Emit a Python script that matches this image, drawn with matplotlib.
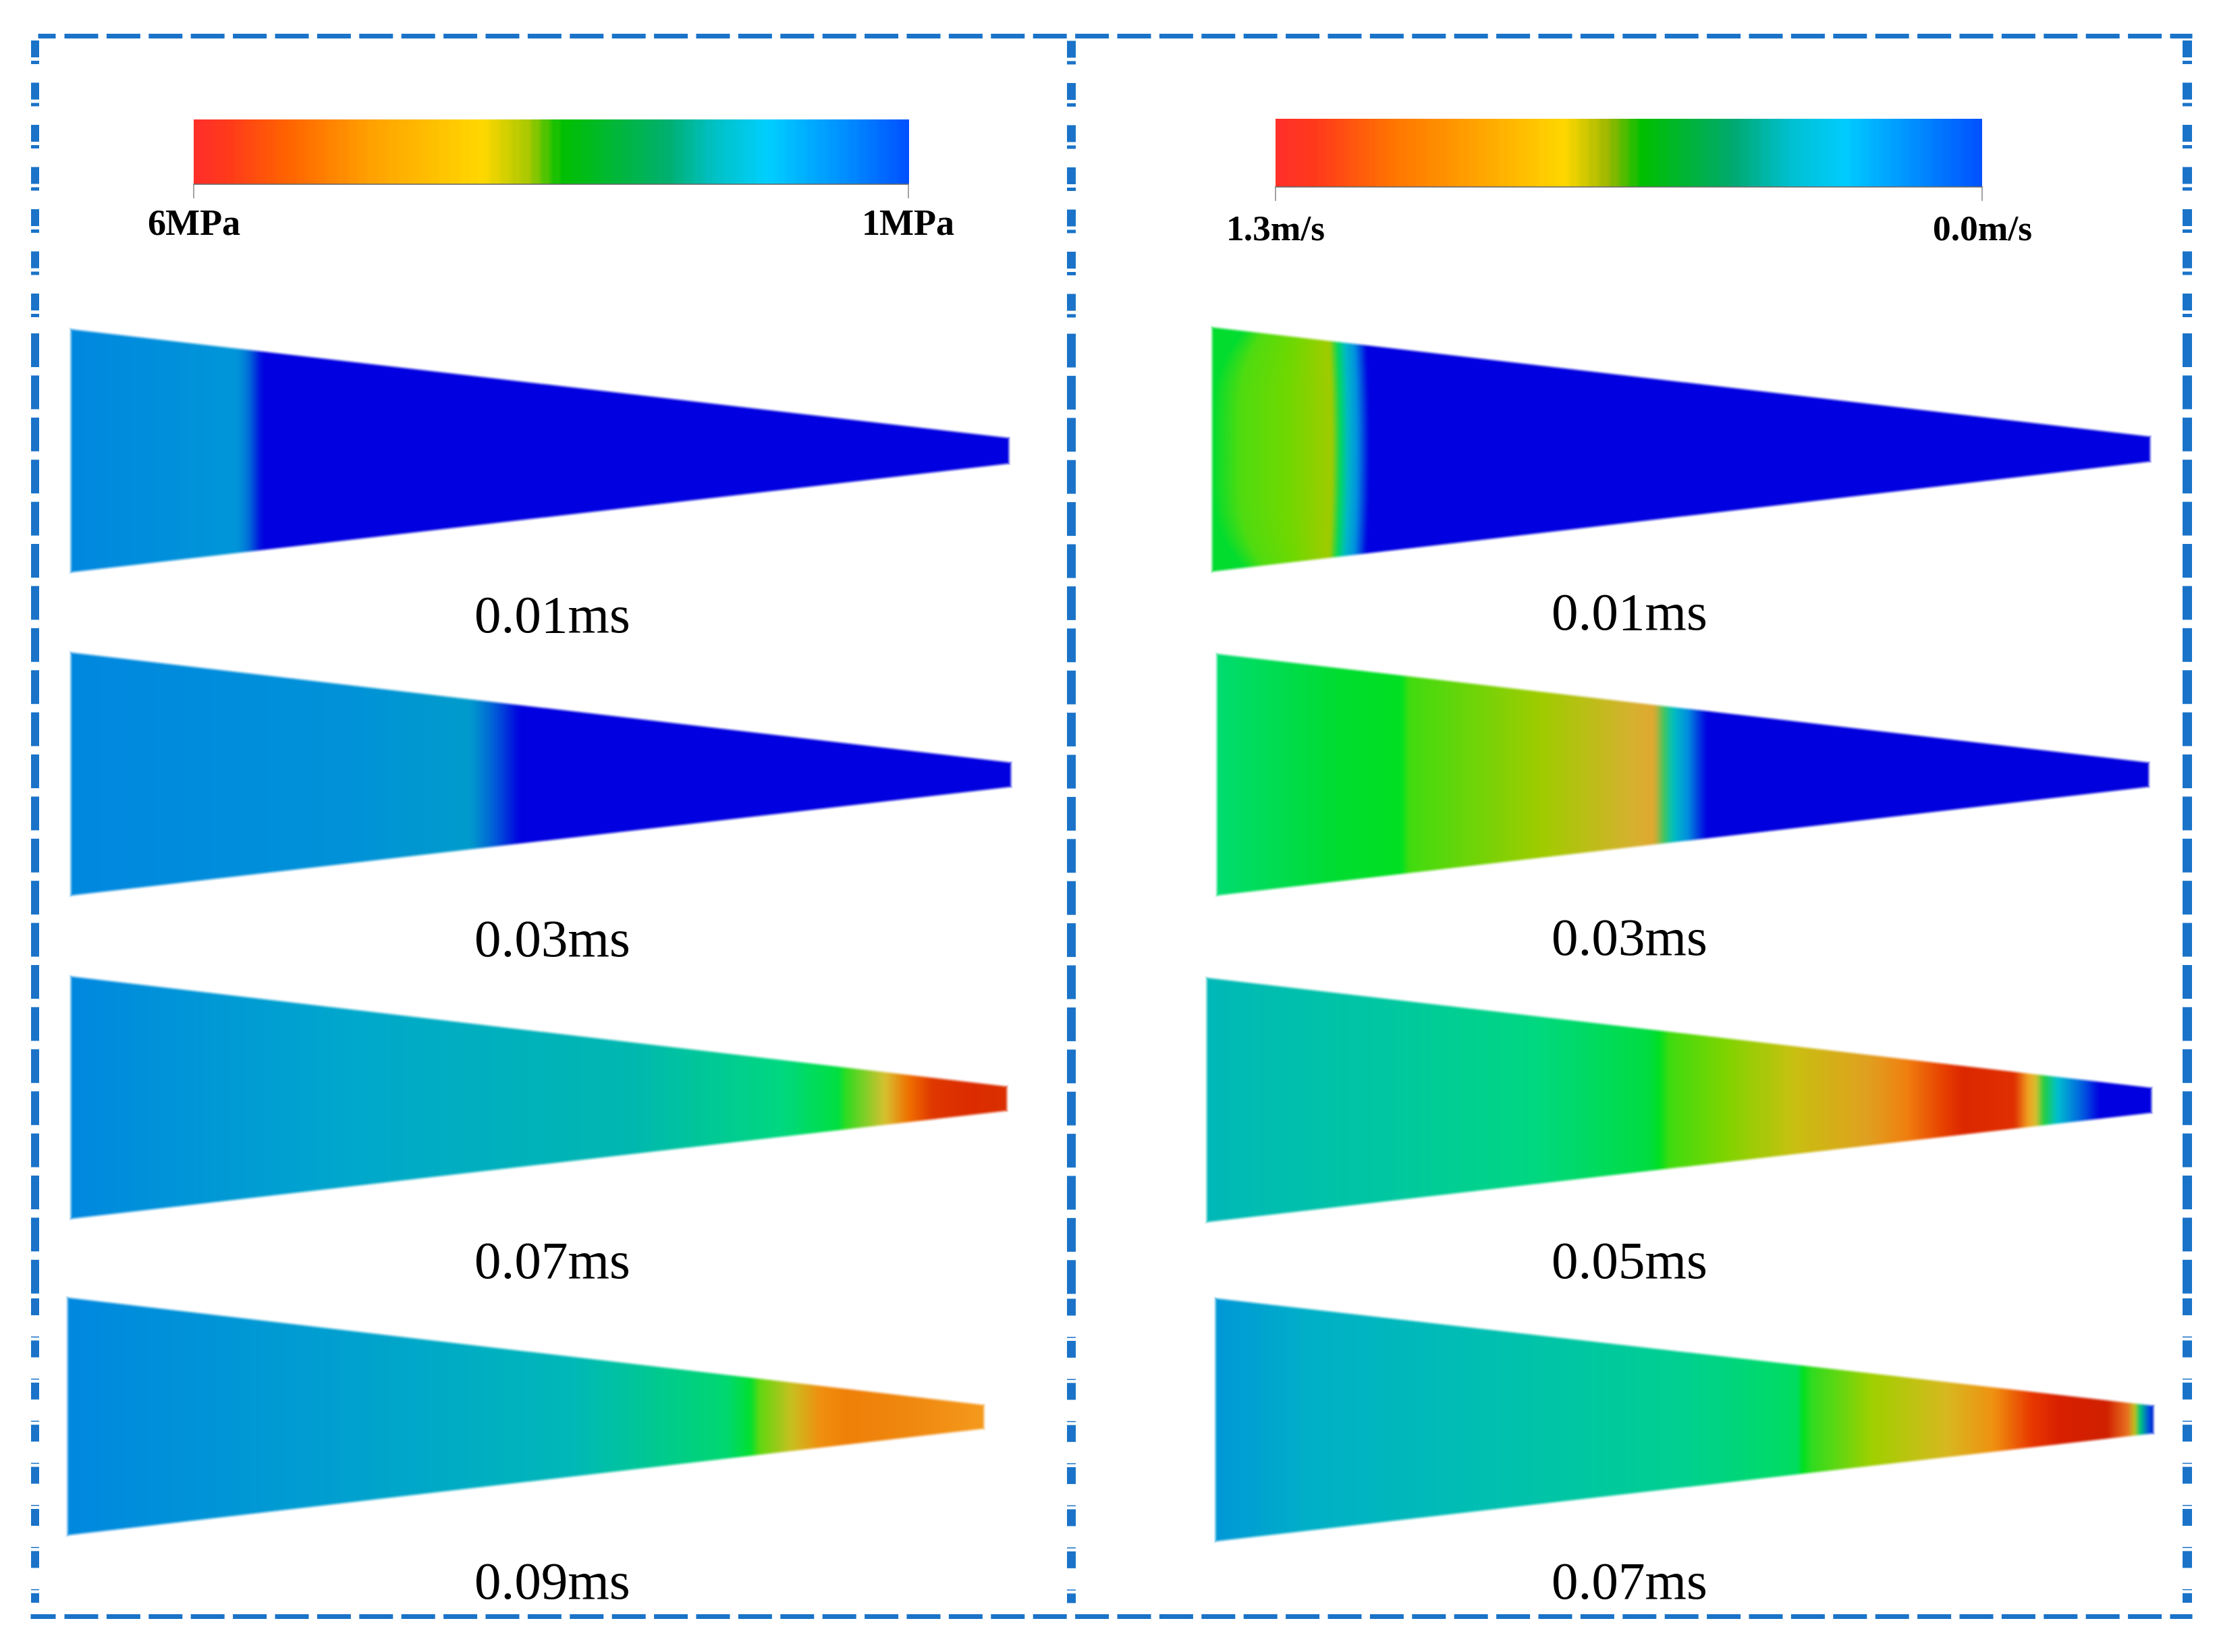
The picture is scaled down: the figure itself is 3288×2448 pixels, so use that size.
import numpy as np
import matplotlib
matplotlib.use("Agg")
import matplotlib.pyplot as plt
from matplotlib.colors import to_rgb

plt.rcParams['lines.scale_dashes'] = False
plt.rcParams['font.family'] = ['Liberation Serif', 'DejaVu Serif']

# ---- colour bars: position along bar and colour
bar_left_pos = [0, .04, .125, .25, .40, .465, .51, .66, .72, .80, .92, 1]
bar_left_col = ['#ff3028', '#ff3a1c', '#ff6400', '#ffa500', '#ffd800', '#a8c800', '#00c000', '#00b070', '#00c0c0', '#00d0ff', '#0088ff', '#0050ff']
bar_right_pos = [0, .05, .165, .295, .405, .465, .515, .645, .725, .805, .90, 1]
bar_right_col = ['#ff3028', '#ff3a1c', '#ff7800', '#ffaa00', '#ffd800', '#a0b800', '#00c000', '#00aa70', '#00c0d0', '#00ccff', '#0090ff', '#0050ff']
bar_left_labels = ['6MPa', '1MPa']
bar_right_labels = ['1.3m/s', '0.0m/s']

# ---- field values along each wedge
p1_pos = [0, .178, .190, .204, 1]
p1_col = ['#0088e0', '#0096d8', '#0070d8', '#0000e0', '#0000e0']
p2_pos = [0, .3, .425, .45, .478, 1]
p2_col = ['#0088e0', '#0092d8', '#009ccc', '#0060d8', '#0000e0', '#0000e0']
p3_pos = [0, .3, .6, .76, .82, .828, .87, .895, .92, .96, 1]
p3_col = ['#0088e0', '#00a8cc', '#00b8b0', '#00d880', '#00e040', '#30dc20', '#d8c030', '#f07000', '#e03800', '#dc2c00', '#dc3000']
p4_pos = [0, .3, .55, .72, .745, .755, .79, .82, .85, .92, 1]
p4_col = ['#0088e0', '#00a0d0', '#00b8b8', '#00d870', '#00e030', '#60d810', '#c8c020', '#f09010', '#f08008', '#f08810', '#f59a1c']
v1_pos = [0, .03, .08, .128, .137, .145, .155, .168, 1]
v1_col = ['#00dd30', '#50dc10', '#70d800', '#a0cc00', '#00d860', '#00b8c8', '#0090e0', '#0000e0', '#0000e0']
v2_pos = [0, .13, .2, .205, .35, .45, .47, .48, .49, .505, .525, 1]
v2_col = ['#00dc70', '#00dd30', '#00e020', '#40dc10', '#a0cc00', '#d8b030', '#e0a830', '#40c860', '#00c0c0', '#0090e0', '#0000e0', '#0000e0']
v3_pos = [0, .2, .35, .47, .48, .49, .55, .62, .7, .74, .78, .8, .855, .869, .878, .886, .90, .926, .945, 1]
v3_col = ['#00b8b8', '#00c8a0', '#00d880', '#00dd40', '#00e020', '#40dc10', '#80d400', '#c8c010', '#e0a020', '#f08010', '#e84000', '#dc2800', '#e03000', '#f0a020', '#d8c030', '#20d040', '#00c0d0', '#0060e0', '#0000e0', '#0000e0']
v4_pos = [0, .1, .3, .5, .62, .626, .635, .7, .78, .83, .87, .9, .95, .972, .98, .986, .995, 1]
v4_col = ['#0098d8', '#00b0c8', '#00c0b0', '#00d090', '#00dd60', '#00e020', '#30dc20', '#a0d000', '#d8b820', '#f09010', '#e83800', '#d82000', '#d02000', '#e87020', '#c0c020', '#00c880', '#0050e0', '#0020d0']

left_times = ['0.01ms', '0.03ms', '0.07ms', '0.09ms']
right_times = ['0.01ms', '0.03ms', '0.05ms', '0.07ms']

# ---- layout in pixels (x_left, y_top, y_bottom, x_right, y_right_top, y_right_bottom)
left_geom = [(105, 488, 848, 1494, 649, 687), (105, 967, 1327, 1497, 1130, 1166),
             (105, 1447, 1806, 1491, 1610, 1646), (100, 1923, 2275, 1457, 2082, 2117)]
right_geom = [(1796, 485, 847, 3185, 647, 684), (1803, 969, 1327, 3183, 1130, 1166),
              (1788, 1449, 1811, 3187, 1612, 1649), (1801, 1924, 2284, 3190, 2083, 2124)]
left_text_y = [937, 1417, 1894, 2369]
right_text_y = [933, 1415, 1894, 2369]
FRAME = '#1a73c8'
W, H = 3288, 2448

fig = plt.figure(figsize=(W / 100, H / 100), dpi=100, facecolor='white')
ax = fig.add_axes([0, 0, 1, 1])
ax.set_xlim(0, W)
ax.set_ylim(H, 0)
ax.axis('off')


def ramp(t, pos, cols):
    rgb = np.array([to_rgb(c) for c in cols])
    return np.stack([np.interp(t, pos, rgb[:, i]) for i in range(3)], axis=-1)


def blurred_ramp(t, pos, cols, n, blur):
    # colour table with one entry per pixel of the wedge span, softened along x
    u = np.linspace(0, 1, n)
    tab = ramp(u, pos, cols)
    k = np.ones(blur) / blur
    pad = blur // 2
    out = np.stack([np.convolve(np.pad(tab[:, i], pad, mode='edge'), k, mode='valid') for i in range(3)], axis=-1)
    return np.stack([np.interp(t, u, out[:, i]) for i in range(3)], axis=-1)


def wedge(geom, pos, cols, corner=0.0, corner_to=0.1, curve=0.0, blur=9):
    xl, yt, yb, xr, yrt, yrb = geom
    x0, x1, y0, y1 = xl - 8, xr + 8, min(yt, yb) - 8, max(yt, yb) + 8
    X, Y = np.meshgrid(np.arange(x0, x1) + .5, np.arange(y0, y1) + .5)
    s = (X - xl) / (xr - xl)
    top = yt + (yrt - yt) * s
    bot = yb + (yrb - yb) * s
    yn = np.clip((Y - (top + bot) / 2) / ((bot - top) / 2), -1, 1)
    t = s + curve * yn ** 2
    if corner:
        t = t - corner * yn ** 4 * np.clip(1 - s / corner_to, 0, 1)
    rgb = blurred_ramp(np.clip(t, 0, 1), pos, cols, xr - xl, blur)
    d = np.minimum.reduce([X - xl, xr - X, Y - top, bot - Y])
    alpha = np.clip((d + 3.5) / 7, 0, 1)
    alpha = alpha * alpha * (3 - 2 * alpha)
    ax.imshow(np.dstack([rgb, alpha]), extent=(x0, x1, y1, y0), interpolation='nearest',
              aspect='auto', zorder=2)


def colorbar(x0, x1, y0, y1, tick_y, pos, cols, labels, label_y, size):
    t = (np.floor(np.linspace(0, 1, x1 - x0) * 70) + .5) / 70
    t = np.convolve(np.r_[[t[0]] * 4, t, [t[-1]] * 4], np.ones(9) / 9, mode='valid')
    t = (t - t[0]) / (t[-1] - t[0])
    img = ramp(t, pos, cols)[None, :, :]
    ax.imshow(img, extent=(x0, x1, y1, y0), aspect='auto', interpolation='nearest', zorder=2)
    ax.plot([x0, x1], [y1, y1], color='#666666', lw=1.1, zorder=3)
    for x, lab in zip((x0, x1), labels):
        ax.plot([x, x], [y1, tick_y], color='#888888', lw=1.1, zorder=3)
        ax.text(x, label_y, lab, ha='center', va='baseline', fontsize=size, fontweight='bold', color='black')


def hline(x0, x1, y, w=7):
    ax.plot([x0, x1], [y, y], color=FRAME, lw=w * .72, solid_capstyle='butt', zorder=4)


def hdash(y):
    ax.plot([95, 3248], [y, y], color=FRAME, lw=7 * .72, dash_capstyle='butt',
            linestyle=(0, (50 * .72, 12.4 * .72)), zorder=4)


def vdash(x, w):
    lw = w * .72
    ax.plot([x, x], [60, 480], color=FRAME, lw=lw, dash_capstyle='butt',
            linestyle=(0, (25 * .72, 5 * .72, 5 * .72, 27.5 * .72)), zorder=4)
    ax.plot([x, x], [494, 1918], color=FRAME, lw=lw, dash_capstyle='butt',
            linestyle=(0, (50 * .72, 12.4 * .72)), zorder=4)
    ax.plot([x, x], [1924, 2375], color=FRAME, lw=lw, dash_capstyle='butt',
            linestyle=(0, (25 * .72, 31.5 * .72, 1.5 * .72, 4.4 * .72)), zorder=4)


wedge(left_geom[0], p1_pos, p1_col, blur=15)
wedge(left_geom[1], p2_pos, p2_col, blur=15)
wedge(left_geom[2], p3_pos, p3_col)
wedge(left_geom[3], p4_pos, p4_col)
wedge(right_geom[0], v1_pos, v1_col, corner=.05, corner_to=.12, curve=.003, blur=7)
wedge(right_geom[1], v2_pos, v2_col, blur=11)
wedge(right_geom[2], v3_pos, v3_col)
wedge(right_geom[3], v4_pos, v4_col, blur=5)

colorbar(287, 1346, 177, 273, 293, bar_left_pos, bar_left_col, bar_left_labels, 347, 39)
colorbar(1890, 2937, 176, 277, 297, bar_right_pos, bar_right_col, bar_right_labels, 356, 38.5)

for lab, y in zip(left_times, left_text_y):
    ax.text(818, y, lab, ha='center', va='baseline', fontsize=57, color='black')
for lab, y in zip(right_times, right_text_y):
    ax.text(2414, y, lab, ha='center', va='baseline', fontsize=57, color='black')

hdash(53)
hdash(2395)
hline(56, 82, 53)
hline(45, 82, 2395)
vdash(52, 12)
vdash(1587, 13)
vdash(3241, 14)

fig.savefig('out.png', dpi=100, facecolor='white')
